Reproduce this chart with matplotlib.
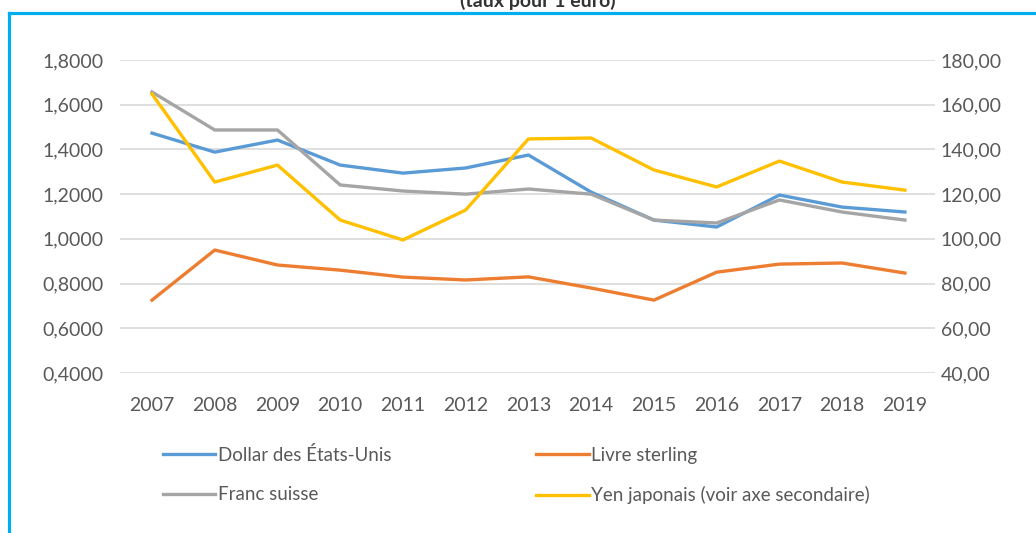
import matplotlib
matplotlib.use("Agg")
import matplotlib.pyplot as plt
from matplotlib.lines import Line2D
from matplotlib.ticker import FuncFormatter

years = [2007, 2008, 2009, 2010, 2011, 2012, 2013, 2014, 2015, 2016, 2017, 2018, 2019]
usd = [1.473, 1.388, 1.442, 1.330, 1.294, 1.317, 1.375, 1.209, 1.084, 1.053, 1.196, 1.142, 1.120]
gbp = [0.726, 0.950, 0.883, 0.860, 0.829, 0.816, 0.830, 0.780, 0.726, 0.851, 0.887, 0.892, 0.847]
chf = [1.657, 1.487, 1.487, 1.241, 1.214, 1.200, 1.223, 1.200, 1.084, 1.071, 1.174, 1.120, 1.084]
jpy = [164.8, 125.4, 133.0, 108.4, 99.5, 112.9, 144.7, 145.1, 130.8, 123.2, 134.8, 125.4, 121.8]

left_ticks = [0.4, 0.6, 0.8, 1.0, 1.2, 1.4, 1.6, 1.8]
right_ticks = [40, 60, 80, 100, 120, 140, 160, 180]

plt.rcParams['font.family'] = ['Lato', 'DejaVu Sans']
txt = '#595959'

W, H = 1036, 533
fig = plt.figure(figsize=(W / 100, H / 100), dpi=100)
ax = fig.add_axes([120 / W, 1 - 373 / H, (935 - 120) / W, (373 - 60) / H])
ax2 = ax.twinx()

ax.plot(years, usd, color='#5B9BD5', lw=2.4, label='Dollar des États-Unis', zorder=3)
ax.plot(years, chf, color='#A5A5A5', lw=2.4, label='Franc suisse', zorder=3)
ax.plot(years, gbp, color='#ED7D31', lw=2.4, label='Livre sterling', zorder=3)
ax2.plot(years, jpy, color='#FFC000', lw=2.4, label='Yen japonais (voir axe secondaire)')

ax.set_xlim(2006.49, 2019.48)
ax.set_ylim(0.4, 1.8)
ax2.set_ylim(40, 180)
ax.set_yticks(left_ticks)
ax2.set_yticks(right_ticks)
ax.set_xticks(years)
ax.yaxis.set_major_formatter(FuncFormatter(lambda v, p: f'{v:.4f}'.replace('.', ',')))
ax2.yaxis.set_major_formatter(FuncFormatter(lambda v, p: f'{v:.2f}'.replace('.', ',')))

ax.grid(axis='y', color='#D9D9D9', lw=1.2)
ax.set_axisbelow(True)
for a in (ax, ax2):
    for s in a.spines.values():
        s.set_visible(False)
    a.tick_params(length=0, labelsize=14, labelcolor=txt)
ax.tick_params(axis='y', pad=12)
ax.tick_params(axis='x', pad=17)
ax2.tick_params(axis='y', pad=4)

handles = ax.get_lines() + ax2.get_lines()
fig.legend(handles=handles, ncol=2, loc='upper left',
           bbox_to_anchor=(146 / W, 1 - 429 / H), frameon=False,
           fontsize=13.5, labelcolor=txt, handlelength=2.8, handletextpad=0.15,
           columnspacing=7.7, labelspacing=1.2)

# frame and cut-off title
fig.add_artist(Line2D([9 / W, 9 / W], [0, 1 - 13 / H], color='#00AEEF', lw=2.3,
                      transform=fig.transFigure))
fig.add_artist(Line2D([9 / W, 1], [1 - 13 / H, 1 - 13 / H], color='#00AEEF', lw=2.3,
                      transform=fig.transFigure))
fig.text(0.519, 1 - 1 / H, '(taux pour 1 euro)', ha='center', va='center',
         weight='bold', fontsize=14, color='#333333')

fig.savefig('out.png', dpi=100)
